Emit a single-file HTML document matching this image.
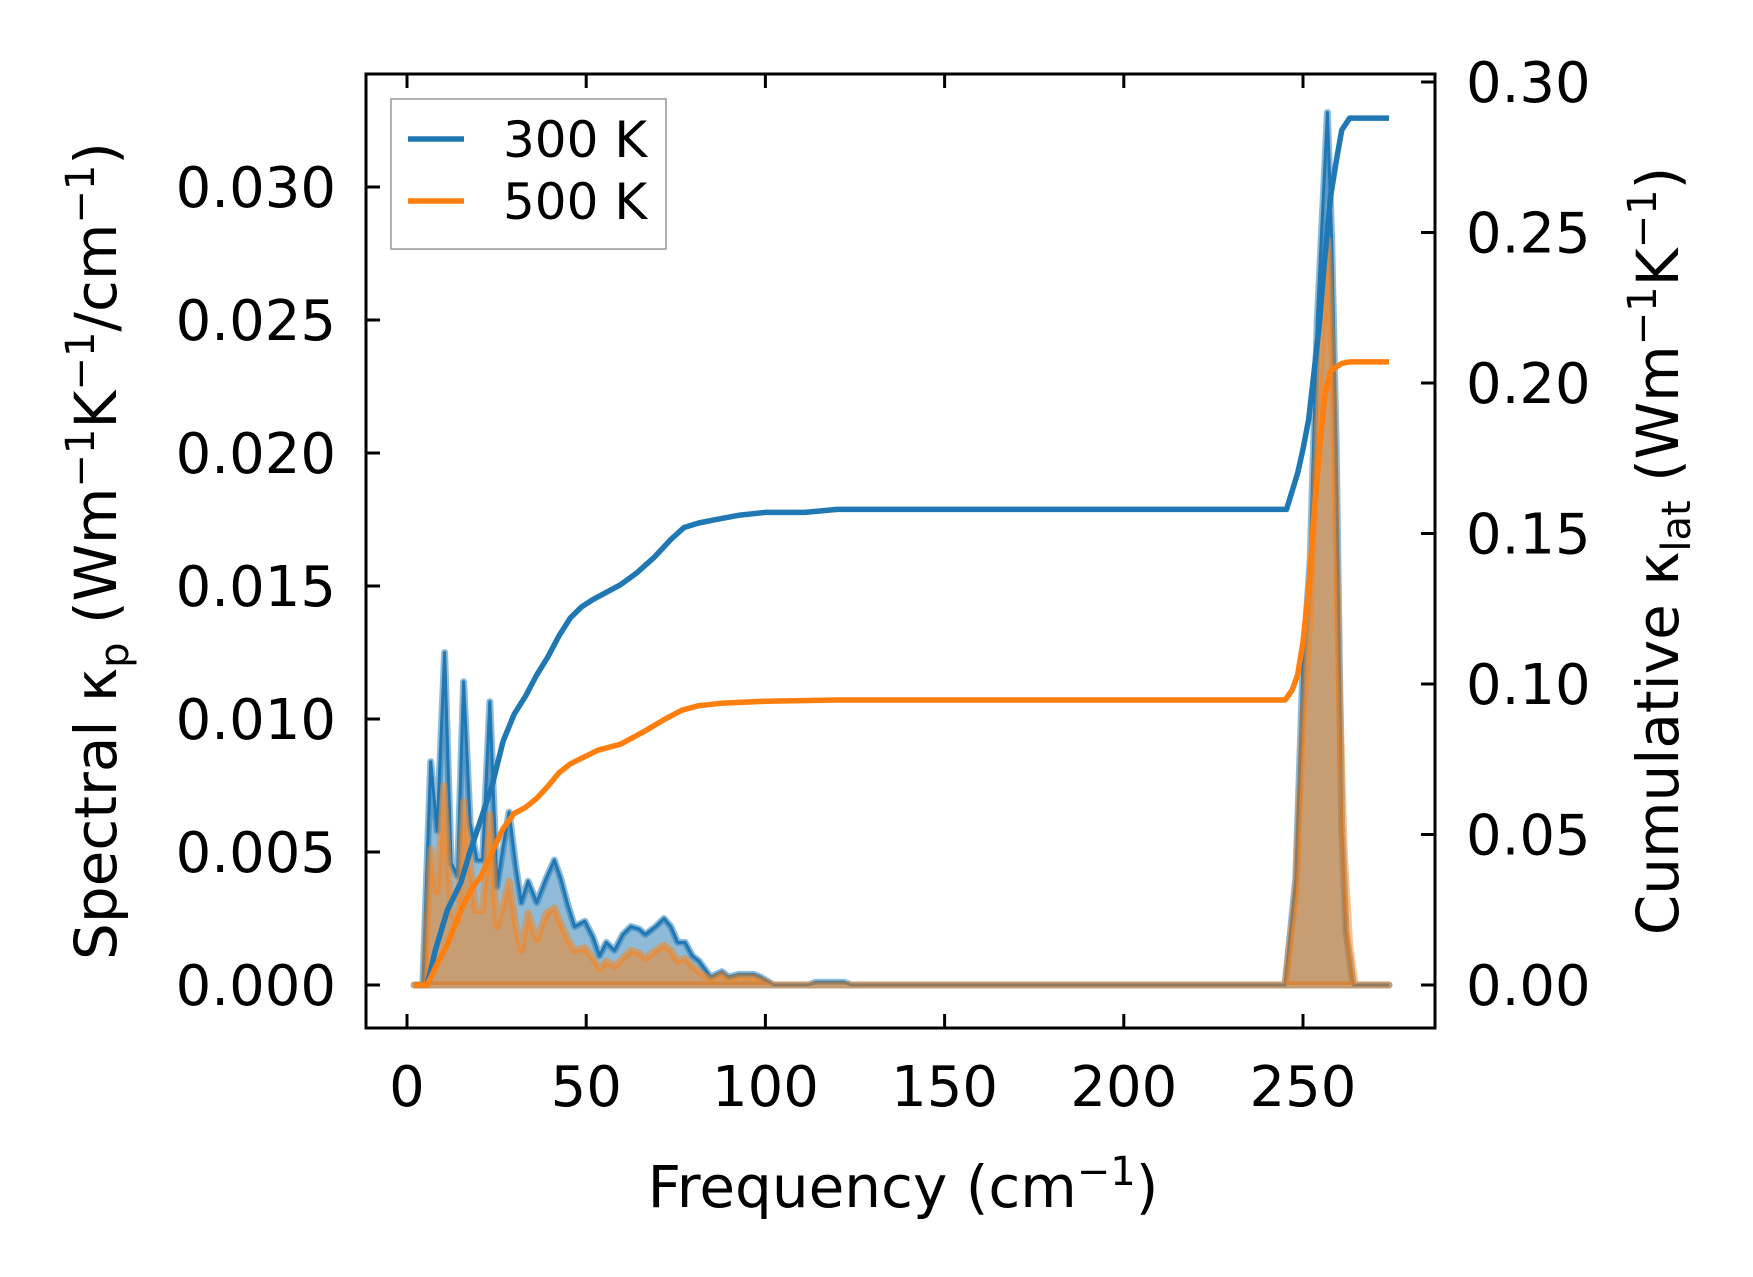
<!DOCTYPE html>
<html><head><meta charset="utf-8"><style>
html,body{margin:0;padding:0;background:#fff;}
svg{display:block;font-family:"DejaVu Sans","Liberation Sans",sans-serif;}
</style></head><body>
<svg id="chart" width="1753" height="1277" viewBox="0 0 1753 1277" xmlns="http://www.w3.org/2000/svg">
<rect width="1753" height="1277" fill="#fff"/>
<g id="marks"></g>
<g id="axes"></g>
</svg>
<script>
const specFreq300 = [2,4.4,6.6,8.4,10.5,12.3,14.1,15.8,17.6,19.5,21.1,23.1,25.1,26.8,28.5,30.3,31.9,33.8,36.2,38.8,41.1,42.9,44.9,46.8,49.6,51.9,53.7,55.6,57.9,60.2,62.5,64.8,66.5,69.4,71.7,73.6,75.5,77.6,79.6,81.5,84.7,87.9,89.8,92.6,96.8,98.6,102.3,112,114,118,122,124,245,248,250,252,254,256.8,258,259.3,260.8,262,264,274];
const spec300 = [0,0,0.0084,0.0058,0.0125,0.0046,0.0041,0.0114,0.0061,0.0047,0.0047,0.01065,0.0037,0.0052,0.0065,0.0045,0.0031,0.0039,0.0031,0.0040,0.0047,0.0040,0.0030,0.0022,0.0024,0.0018,0.0011,0.0016,0.0013,0.0019,0.0022,0.0021,0.0019,0.0022,0.0025,0.0022,0.0016,0.0016,0.0011,0.0009,0.0003,0.0005,0.0003,0.0004,0.0004,0.0003,0,0,0.0001,0.0001,0.0001,0,0,0.004,0.012,0.016,0.025,0.0328,0.028,0.02,0.006,0.002,0,0];
const specFreq500 = [2,4.8,6.6,8.4,10.3,12.3,14.1,15.8,17.6,19.2,21.1,23.1,25.1,26.8,28.5,30.3,31.9,33.8,36.2,38.9,41.1,42.9,44.9,46.8,49.6,51.9,53.7,55.6,57.9,60.2,62.5,64.8,66.5,69.4,71.7,73.6,75.5,77.6,79.6,81.5,84.7,87.9,89.8,92.6,96.8,98.6,102.3,245,248,250,252,254,257,258.5,260,261.5,263,264.5,274];
const spec500 = [0,0,0.0051,0.0035,0.0075,0.0027,0.0024,0.0069,0.0045,0.0028,0.0028,0.0064,0.0022,0.0030,0.0039,0.0023,0.0013,0.0027,0.0017,0.0027,0.0029,0.0023,0.0017,0.0013,0.0014,0.0010,0.0006,0.0009,0.0007,0.0010,0.0013,0.0012,0.0010,0.0013,0.0015,0.0013,0.0009,0.0010,0.0007,0.0005,0.0002,0.0004,0.0002,0.0003,0.0003,0.0002,0,0,0.0035,0.010,0.014,0.021,0.028,0.022,0.012,0.005,0.0015,0,0];
const cumFreq300 = [2,5.6,8,11.3,15,17.5,20.6,23.7,26.8,29.9,33.1,36.2,39.3,42.4,45.6,48.7,51.8,54.9,59.6,64.2,68.9,73.6,77.3,81.4,86,92.3,100,111,120,245.4,248.5,250,251.6,253,254.6,256.1,257.7,259.3,260.8,263,274];
const cum300 = [0,0,0.012,0.025,0.034,0.044,0.055,0.066,0.081,0.090,0.096,0.103,0.109,0.116,0.122,0.1256,0.128,0.130,0.133,0.137,0.142,0.148,0.152,0.1535,0.1546,0.156,0.157,0.157,0.158,0.158,0.170,0.178,0.188,0.203,0.220,0.242,0.262,0.2738,0.284,0.288,0.288];
const cumFreq500 = [2,5.6,8,11.3,14.4,17.5,20.6,23.7,26.8,29.9,33.1,36.2,39.3,42.4,45.6,48.7,53.3,59.6,65.8,72.1,76.7,81.4,87.6,100,120,245,247,248.5,250,251.6,253,254.6,256.1,257.7,260.8,263,274];
const cum500 = [0,0,0.006,0.0135,0.023,0.031,0.036,0.044,0.052,0.057,0.059,0.062,0.066,0.0705,0.0735,0.0753,0.078,0.080,0.084,0.0884,0.0913,0.0928,0.0936,0.0943,0.0947,0.0947,0.098,0.103,0.114,0.132,0.155,0.178,0.196,0.204,0.2065,0.207,0.207];
const xTicks = [0,50,100,150,200,250];
const yTicksL = [0,0.005,0.010,0.015,0.020,0.025,0.030];
const yTickLabelsL = ["0.000","0.005","0.010","0.015","0.020","0.025","0.030"];
const yTicksR = [0,0.05,0.10,0.15,0.20,0.25,0.30];
const yTickLabelsR = ["0.00","0.05","0.10","0.15","0.20","0.25","0.30"];

const L=366,R=1435,T=74,B=1028;
const X = f => 407 + f*3.584;
const YL = v => 985 - v/0.005*133;
const YR = v => 985 - v*3010;
const NS="http://www.w3.org/2000/svg";
const marks=document.getElementById('marks'), axes=document.getElementById('axes');
function mk(tag,attrs,parent){const e=document.createElementNS(NS,tag);for(const k in attrs)e.setAttribute(k,attrs[k]);parent.appendChild(e);return e;}
function pts(fs,vs,Y){return fs.map((f,i)=>X(f).toFixed(1)+','+Y(vs[i]).toFixed(1)).join(' ');}

function area(fs,vs,color,name){
  const top=pts(fs,vs,YL);
  const d='M'+X(fs[0])+','+YL(0)+' L'+top.split(' ').join(' L')+' L'+X(fs[fs.length-1])+','+YL(0)+' Z';
  const p=mk('path',{d:d,fill:color,'fill-opacity':0.5,stroke:color,'stroke-opacity':0.5,'stroke-width':7,'stroke-linejoin':'round'},marks);
  
  
}
area(specFreq300,spec300,'#1f77b4','spectral-area-300k');
const l3=mk('polyline',{points:pts(specFreq300,spec300,YL),fill:'none',stroke:'#1f77b4','stroke-width':3,'stroke-linejoin':'round'},marks);


area(specFreq500,spec500,'#ff7f0e','spectral-area-500k');
const c3=mk('polyline',{points:pts(cumFreq300,cum300,YR),fill:'none',stroke:'#1f77b4','stroke-width':5.5,'stroke-linejoin':'round'},marks);


const c5=mk('polyline',{points:pts(cumFreq500,cum500,YR),fill:'none',stroke:'#ff7f0e','stroke-width':5.5,'stroke-linejoin':'round'},marks);



const fr=mk('rect',{x:L,y:T,width:R-L,height:B-T,fill:'none',stroke:'#000','stroke-width':3},axes);


xTicks.forEach(t=>{
  const x=X(t);
  mk('line',{x1:x,y1:B,x2:x,y2:B-14,stroke:'#000','stroke-width':3},axes);
  mk('line',{x1:x,y1:T,x2:x,y2:T+14,stroke:'#000','stroke-width':3},axes);
  const tx=mk('text',{x:x,y:B+78,'font-size':56,'text-anchor':'middle'},axes);
  tx.textContent=t;
  
  
});
yTicksL.forEach((t,i)=>{
  const y=YL(t);
  mk('line',{x1:L,y1:y,x2:L+14,y2:y,stroke:'#000','stroke-width':3},axes);
  const tx=mk('text',{x:L-30,y:y+20,'font-size':56,'text-anchor':'end'},axes);
  tx.textContent=yTickLabelsL[i];
  
  
});
yTicksR.forEach((t,i)=>{
  const y=YR(t);
  mk('line',{x1:R,y1:y,x2:R-14,y2:y,stroke:'#000','stroke-width':3},axes);
  const tx=mk('text',{x:R+31,y:y+20,'font-size':56,'text-anchor':'start'},axes);
  tx.textContent=yTickLabelsR[i];
  
  
});
</script>
<svg style="position:absolute;left:0;top:0" width="1753" height="1277" xmlns="http://www.w3.org/2000/svg">
<g font-family="DejaVu Sans, Liberation Sans, sans-serif" font-size="58">
<text x="903" y="1207" text-anchor="middle">Frequency (cm<tspan dy="-22" font-size="40">−1</tspan><tspan dy="22">)</tspan></text>
<text transform="translate(116,551) rotate(-90)" text-anchor="middle">Spectral κ<tspan dy="12" font-size="40">p</tspan><tspan dy="-12"> (Wm</tspan><tspan dy="-22" font-size="40">−1</tspan><tspan dy="22">K</tspan><tspan dy="-22" font-size="40">−1</tspan><tspan dy="22">/cm</tspan><tspan dy="-22" font-size="40">−1</tspan><tspan dy="22">)</tspan></text>
<text transform="translate(1678,551) rotate(-90)" text-anchor="middle">Cumulative κ<tspan dy="12" font-size="40">lat</tspan><tspan dy="-12"> (Wm</tspan><tspan dy="-22" font-size="40">−1</tspan><tspan dy="22">K</tspan><tspan dy="-22" font-size="40">−1</tspan><tspan dy="22">)</tspan></text>
</g>
<g>
<rect x="391" y="99" width="275" height="150" fill="#fff" fill-opacity="0.8" stroke="#999" stroke-width="1.5"/>
<line x1="408" y1="139" x2="464" y2="139" stroke="#1f77b4" stroke-width="5.5"/>
<text x="503" y="157" font-size="50" font-family="DejaVu Sans, Liberation Sans, sans-serif">300 K</text>
<line x1="408" y1="201" x2="464" y2="201" stroke="#ff7f0e" stroke-width="5.5"/>
<text x="503" y="219" font-size="50" font-family="DejaVu Sans, Liberation Sans, sans-serif">500 K</text>
</g>
</svg>
</body></html>
